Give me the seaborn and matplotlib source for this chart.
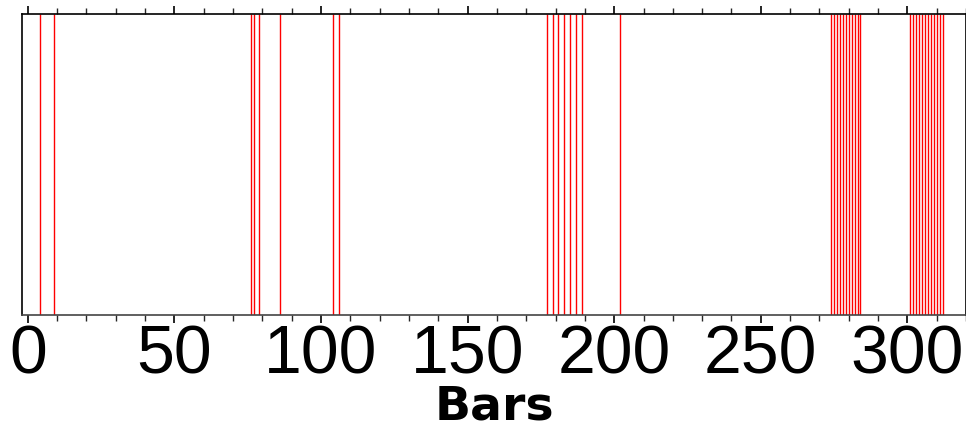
import matplotlib
matplotlib.use("Agg")
import matplotlib.pyplot as plt
import seaborn as sns
import numpy as np
from matplotlib.ticker import MultipleLocator

sns.set_style("ticks")
plt.rcParams['font.family'] = ['DejaVu Sans']

# Positions of the bars (events) along the x axis
group_a = [4, 9]
group_b = [76, 77, 79, 86]
group_c = [104, 106]
group_d = [177, 179, 181, 183, 185, 187, 189, 202]
group_e = [274, 275, 276, 277, 278, 279, 280, 281, 282, 283, 284]
group_f = [301, 302, 303, 304, 305, 306, 307, 308, 309, 310, 311, 312]
bars = group_a + group_b + group_c + group_d + group_e + group_f

major_ticks = [0, 50, 100, 150, 200, 250, 300]
x_label = "Bars"

fig = plt.figure(figsize=(9.66, 4.30), dpi=100)
ax = fig.add_axes([22/966, 1 - 315/430, (966 - 22)/966, (315 - 14)/430])

sns.rugplot(x=bars, height=1, color="#ff0000", lw=1.2, ax=ax, expand_margins=False)

ax.set_xlim(-2, 320)
ax.set_ylim(0, 1)
ax.set_yticks([])
ax.set_xticks(major_ticks)
ax.set_xticklabels([str(t) for t in major_ticks], fontsize=49,
                   family=['Liberation Sans Narrow', 'Liberation Sans', 'DejaVu Sans'])
ax.xaxis.set_minor_locator(MultipleLocator(10))
ax.tick_params(axis='x', which='major', length=6, width=1.2, direction='out',
               top=True, bottom=True, pad=0, colors='black')
ax.tick_params(axis='x', which='minor', length=4, width=1, direction='out',
               top=True, bottom=True)
for s in ax.spines.values():
    s.set_visible(True)
    s.set_linewidth(1.2)
    s.set_color('black')
ax.spines['bottom'].set_color('#444444')

ax.set_xlabel(x_label, fontsize=34, fontweight='bold', color='black',
              family=['DejaVu Sans'], va='baseline')
ax.xaxis.set_label_coords(494 / 966, 1 - 420 / 430, transform=fig.transFigure)

fig.savefig("out.png", dpi=100)
